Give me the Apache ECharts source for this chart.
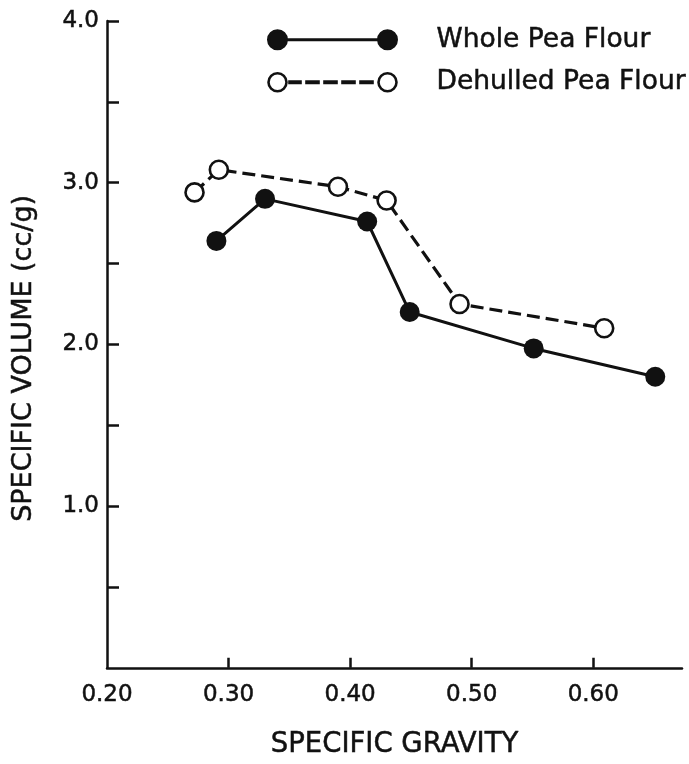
<!DOCTYPE html>
<html>
<head>
<meta charset="utf-8">
<script src="https://cdn.jsdelivr.net/npm/echarts@6/dist/echarts.min.js"></script>
<style>
html,body{margin:0;padding:0;background:#fff;}
#chart{width:689px;height:764px;}
</style>
</head>
<body>
<div id="chart"></div>
<script>
// ---- data ----
const seriesNames = ['Whole Pea Flour', 'Dehulled Pea Flour'];
const wholeX = [0.290, 0.330, 0.414, 0.449, 0.551, 0.651];
const wholeY = [2.64, 2.90, 2.76, 2.20, 1.975, 1.80];
const dehulledX = [0.272, 0.292, 0.390, 0.430, 0.490, 0.609];
const dehulledY = [2.94, 3.08, 2.975, 2.89, 2.25, 2.10];
const xTickValues = [0.30, 0.40, 0.50, 0.60];
const xLabelValues = [0.20, 0.30, 0.40, 0.50, 0.60];
const yTickValues = [0.5, 1.0, 1.5, 2.0, 2.5, 3.0, 3.5, 4.0];
const yLabelValues = [1.0, 2.0, 3.0, 4.0];
const xAxisTitle = 'SPECIFIC GRAVITY';
const yAxisTitle = 'SPECIFIC VOLUME (cc/g)';

const INK = '#111';
const FONT = 'DejaVu Sans';
const HEAVY = {textBorderColor: INK, textBorderWidth: 0.5};

const pairs = (xs, ys) => xs.map((x, i) => [x, ys[i]]);

// legend icons: marker - line - marker
const solidIcon = 'path://M0,9 A9,9 0 1,1 18,9 A9,9 0 1,1 0,9 Z M110,9 A9,9 0 1,1 128,9 A9,9 0 1,1 110,9 Z M18,9 L110,9';
const dashRect = (a, b) => `M${a},8.4 L${b},8.4 L${b},9.6 L${a},9.6 Z `;
const dashIcon = 'path://M0,9 A9,9 0 1,1 18,9 A9,9 0 1,1 0,9 Z M110,9 A9,9 0 1,1 128,9 A9,9 0 1,1 110,9 Z ' +
  dashRect(21, 32) + dashRect(38, 50) + dashRect(56, 68) + dashRect(74, 86) + dashRect(92, 104);

const chart = echarts.init(document.getElementById('chart'), null, {renderer: 'canvas'});
chart.setOption({
  animation: false,
  backgroundColor: '#fff',
  grid: {left: 107, right: 7, top: 21, bottom: 90, containLabel: false},
  legend: {
    orient: 'vertical',
    left: 267,
    top: 26,
    padding: 0,
    itemWidth: 128,
    itemHeight: 18,
    itemGap: 15,
    selectedMode: false,
    textStyle: Object.assign({fontFamily: FONT, fontSize: 26.5, color: INK,
                              padding: [0, 0, 0, 35]}, HEAVY),
    data: [
      {name: seriesNames[0], icon: solidIcon,
       itemStyle: {color: INK, borderColor: INK, borderWidth: 3}},
      {name: seriesNames[1], icon: dashIcon,
       itemStyle: {color: '#fff', borderColor: INK, borderWidth: 2.6}}
    ]
  },
  xAxis: {
    type: 'value',
    min: 0.2,
    max: 0.673,
    interval: 0.1,
    splitLine: {show: false},
    axisLine: {show: true, lineStyle: {color: INK, width: 2.5}},
    axisTick: {show: true, inside: true, length: 10, customValues: xTickValues,
               lineStyle: {color: INK, width: 2.5}},
    axisLabel: Object.assign({show: true, margin: 16, customValues: xLabelValues,
                fontFamily: FONT, fontSize: 23, color: INK,
                formatter: v => v.toFixed(2)}, HEAVY),
    name: xAxisTitle,
    nameLocation: 'middle',
    nameGap: 63,
    nameTextStyle: Object.assign({fontFamily: FONT, fontSize: 27.5, color: INK}, HEAVY)
  },
  yAxis: {
    type: 'value',
    min: 0,
    max: 4,
    interval: 0.5,
    splitLine: {show: false},
    axisLine: {show: true, lineStyle: {color: INK, width: 2.5}},
    axisTick: {show: true, inside: true, length: 12, customValues: yTickValues,
               lineStyle: {color: INK, width: 2.5}},
    axisLabel: Object.assign({show: true, margin: 8, customValues: yLabelValues,
                fontFamily: FONT, fontSize: 23, color: INK,
                formatter: v => v.toFixed(1)}, HEAVY),
    name: yAxisTitle,
    nameLocation: 'middle',
    nameGap: 70,
    nameTextStyle: Object.assign({fontFamily: FONT, fontSize: 27, color: INK,
                                  padding: [0, 28, 0, 0]}, HEAVY)
  },
  series: [
    {
      name: seriesNames[0],
      type: 'line',
      data: pairs(wholeX, wholeY),
      symbol: 'circle',
      symbolSize: 20,
      itemStyle: {color: INK},
      lineStyle: {color: INK, width: 3, type: 'solid'},
      z: 3
    },
    {
      name: seriesNames[1],
      type: 'line',
      data: pairs(dehulledX, dehulledY),
      symbol: 'circle',
      symbolSize: 18,
      showAllSymbol: true,
      itemStyle: {color: '#fff', borderColor: INK, borderWidth: 2.6},
      lineStyle: {color: INK, width: 3.2, type: [13, 6]},
      z: 2
    }
  ]
});
</script>
</body>
</html>
